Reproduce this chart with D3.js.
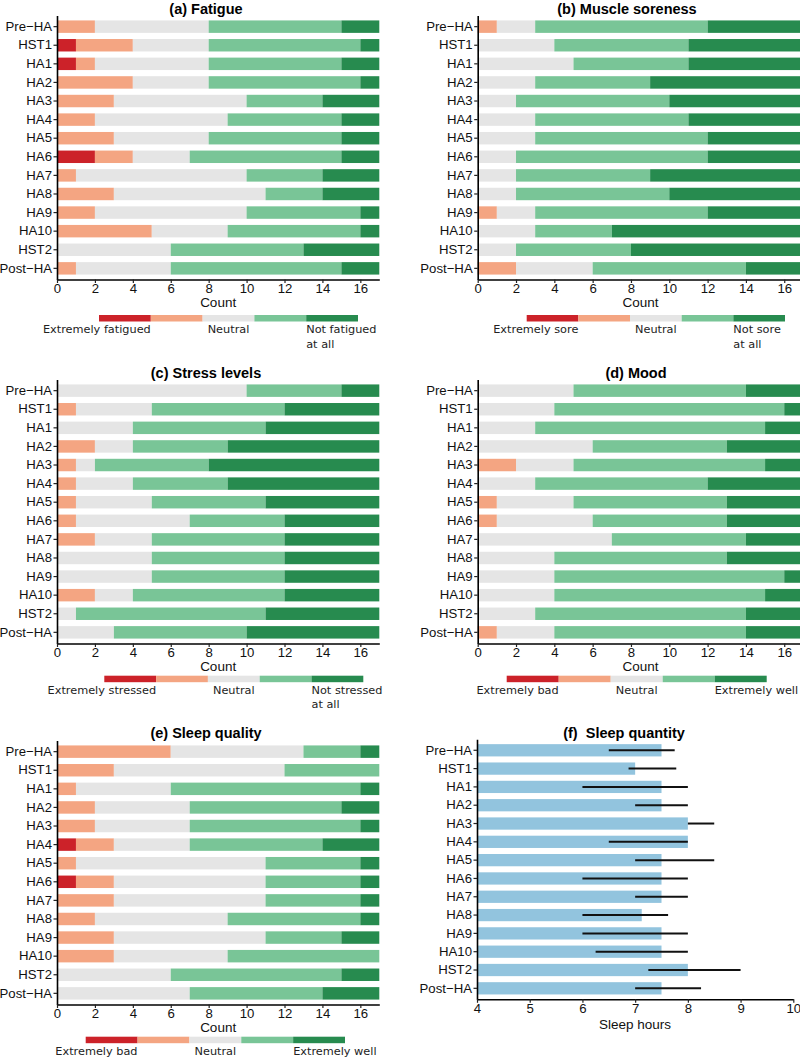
<!DOCTYPE html>
<html><head><meta charset="utf-8">
<script src="https://cdn.jsdelivr.net/npm/d3@7"></script>
<style>body{margin:0;background:#fff} svg{display:block}</style>
</head><body>
<script>
// ---------- data ----------
const timepoints = ["Pre−HA","HST1","HA1","HA2","HA3","HA4","HA5","HA6","HA7","HA8","HA9","HA10","HST2","Post−HA"];
const levels = ["l1","l2","l3","l4","l5"];
const levelColors = ["#cc2229","#f4a582","#e5e5e5","#79c597","#278b4f"];

// counts per timepoint: [most negative, negative, neutral, positive, most positive]
const fatigue = [[0,2,6,7,2],[1,3,4,8,1],[1,1,6,7,2],[0,4,4,8,1],[0,3,7,4,3],[0,2,7,6,2],[0,3,5,7,2],[2,2,3,8,2],[0,1,9,4,3],[0,3,8,3,3],[0,2,8,6,1],[0,5,4,7,1],[0,0,6,7,4],[0,1,5,9,2]];
const soreness = [[0,1,2,9,5],[0,0,4,7,6],[0,0,5,6,6],[0,0,3,6,8],[0,0,2,8,7],[0,0,3,8,6],[0,0,3,9,5],[0,0,2,10,5],[0,0,2,7,8],[0,0,2,8,7],[0,1,2,9,5],[0,0,3,4,10],[0,0,2,6,9],[0,2,4,8,3]];
const stress = [[0,0,10,5,2],[0,1,4,7,5],[0,0,4,7,6],[0,2,2,5,8],[0,1,1,6,9],[0,1,3,5,8],[0,1,4,6,6],[0,1,6,5,5],[0,2,3,7,5],[0,0,5,7,5],[0,0,5,7,5],[0,2,2,8,5],[0,0,1,10,6],[0,0,3,7,7]];
const mood = [[0,0,5,9,3],[0,0,4,12,1],[0,0,3,12,2],[0,0,6,7,4],[0,2,3,10,2],[0,0,3,9,5],[0,1,4,8,4],[0,1,5,7,4],[0,0,7,7,3],[0,0,4,9,4],[0,0,4,12,1],[0,0,4,11,2],[0,0,3,11,3],[0,1,3,10,3]];
const sleepQuality = [[0,6,7,3,1],[0,3,9,5,0],[0,1,5,10,1],[0,2,5,8,2],[0,2,5,9,1],[1,2,4,7,3],[0,1,10,5,1],[1,2,8,5,1],[0,3,8,5,1],[0,2,7,7,1],[0,3,8,4,2],[0,3,6,8,0],[0,0,6,9,2],[0,0,7,7,3]];

const sleepHours = [7.5,7.0,7.5,7.5,8.0,8.0,7.5,7.5,7.5,7.125,7.5,7.5,8.0,7.5];
const sleepLow   = [6.5,6.875,6.0,7.0,8.0,6.5,7.0,6.0,7.0,6.0,6.0,6.25,7.25,7.0];
const sleepHigh  = [7.75,7.78,8.0,8.0,8.5,8.0,8.5,8.0,8.0,7.625,8.0,8.0,9.0,8.25];

const countTicks = [0,2,4,6,8,10,12,14,16];
const hourTicks = [4,5,6,7,8,9,10];

const titles = ["(a) Fatigue","(b) Muscle soreness","(c) Stress levels","(d) Mood","(e) Sleep quality","(f)  Sleep quantity"];
const legendLabels = [
  ["Extremely fatigued","Neutral","Not fatigued","at all"],
  ["Extremely sore","Neutral","Not sore","at all"],
  ["Extremely stressed","Neutral","Not stressed","at all"],
  ["Extremely bad","Neutral","Extremely well",""],
  ["Extremely bad","Neutral","Extremely well",""]
];

// ---------- layout ----------
const W = 800, H = 1057;
const svg = d3.select("body").append("svg").attr("width", W).attr("height", H);
const axisFont = "'Liberation Sans', Arial, sans-serif";
const legFont = "'DejaVu Sans', Verdana, sans-serif";

const panels = [
  {data: fatigue,      x0: 57,    x1: 379.3, y0: 15.5,  y1: 279.5,  tx: 206, ty: 14,   leg:{x0:99,    x1:358,   y:315}},
  {data: soreness,     x0: 477.7, x1: 803.4, y0: 15.5,  y1: 279.5,  tx: 627, ty: 14,   leg:{x0:526.7, x1:785,   y:315}},
  {data: stress,       x0: 57,    x1: 379.3, y0: 379.5, y1: 643.5,  tx: 206, ty: 378,  leg:{x0:104.3, x1:363.3, y:675.7}},
  {data: mood,         x0: 477.7, x1: 803.4, y0: 379.5, y1: 643.5,  tx: 636, ty: 378,  leg:{x0:506.7, x1:766.7, y:675.7}},
  {data: sleepQuality, x0: 57,    x1: 379.3, y0: 740.5, y1: 1004.5, tx: 206, ty: 738,  leg:{x0:85.7,  x1:345,   y:1036.7}},
];

const color = d3.scaleOrdinal().domain(levels).range(levelColors);

function styleAxis(g){
  g.selectAll("path.domain").attr("stroke","#000").attr("stroke-width",1.6);
  g.selectAll(".tick line").attr("stroke","#222").attr("stroke-width",1.2);
  g.selectAll(".tick text").attr("fill","#111").style("font-family",axisFont).style("font-size","13.2px");
}

panels.forEach((p, i) => {
  const rows = p.data.map((d, k) => {
    const o = {tp: timepoints[k]};
    levels.forEach((l, j) => o[l] = d[j]);
    return o;
  });
  const series = d3.stack().keys(levels)(rows);
  const x = d3.scaleLinear().domain([0,17]).range([p.x0, p.x1]);
  const y = d3.scaleBand().domain(timepoints).range([p.y0, p.y1]).paddingInner(0.33).paddingOuter(0.265);
  const g = svg.append("g");

  g.selectAll("g.s").data(series).join("g").attr("fill", s => color(s.key))
    .selectAll("rect").data(s => s).join("rect")
    .attr("x", d => x(d[0])).attr("width", d => x(d[1]) - x(d[0]))
    .attr("y", d => y(d.data.tp)).attr("height", y.bandwidth());

  const ya = g.append("g").attr("transform", `translate(${p.x0},0)`)
    .call(d3.axisLeft(y).tickSize(3.5).tickSizeOuter(0).tickPadding(1.5));
  styleAxis(ya);
  const xa = g.append("g").attr("transform", `translate(0,${p.y1})`)
    .call(d3.axisBottom(x).tickValues(countTicks).tickFormat(d3.format("d")).tickSize(3.5).tickSizeOuter(0).tickPadding(1));
  styleAxis(xa);

  g.append("text").attr("x", (p.x0 + x(17))/2).attr("y", p.y1 + 27.5).attr("text-anchor","middle")
    .style("font-family",axisFont).style("font-size","13.5px").attr("fill","#111").text("Count");

  g.append("text").attr("x", p.tx).attr("y", p.ty).attr("text-anchor","middle")
    .style("font-family",axisFont).style("font-size","14.5px").style("font-weight","bold").attr("fill","#000")
    .text(titles[i]);

  // legend
  const lx = d3.scaleBand().domain(levels).range([p.leg.x0, p.leg.x1]);
  g.selectAll("rect.leg").data(levels).join("rect").attr("class","leg")
    .attr("x", d => lx(d)).attr("width", lx.bandwidth()).attr("y", p.leg.y).attr("height", 6.5)
    .attr("fill", d => color(d));
  const lab = legendLabels[i];
  const ly = p.leg.y + 18;
  const lt = (xx, yy, anchor, txt) => g.append("text").attr("x", xx).attr("y", yy).attr("text-anchor", anchor)
    .style("font-family",legFont).style("font-size","11.3px").attr("fill","#222").text(txt);
  lt(lx(levels[0]) + lx.bandwidth(), ly, "end", lab[0]);
  lt(lx(levels[2]) + lx.bandwidth()/2, ly, "middle", lab[1]);
  lt(lx(levels[4]), ly, "start", lab[2]);
  if (lab[3]) lt(lx(levels[4]), ly + 14.5, "start", lab[3]);
});

// ---------- panel (f) ----------
{
  const x = d3.scaleLinear().domain([4,10]).range([477, 793.3]);
  const y = d3.scaleBand().domain(timepoints).range([739.3, 999.3]).paddingInner(0.33).paddingOuter(0.265);
  const g = svg.append("g");
  g.selectAll("rect").data(timepoints).join("rect")
    .attr("x", x(4)).attr("width", (d,k) => x(sleepHours[k]) - x(4))
    .attr("y", d => y(d)).attr("height", y.bandwidth()).attr("fill","#92c4de");
  g.selectAll("line.err").data(timepoints).join("line").attr("class","err")
    .attr("x1", (d,k) => x(sleepLow[k])).attr("x2", (d,k) => x(sleepHigh[k]))
    .attr("y1", d => y(d) + y.bandwidth()/2).attr("y2", d => y(d) + y.bandwidth()/2)
    .attr("stroke","#111").attr("stroke-width",2);
  const ya = g.append("g").attr("transform","translate(477,0)")
    .call(d3.axisLeft(y).tickSize(3.5).tickSizeOuter(0).tickPadding(1.5));
  styleAxis(ya);
  const xa = g.append("g").attr("transform","translate(0,999.3)")
    .call(d3.axisBottom(x).tickValues(hourTicks).tickFormat(d3.format("d")).tickSize(3.5).tickSizeOuter(0).tickPadding(1));
  styleAxis(xa);
  g.append("text").attr("x", 635).attr("y", 1029).attr("text-anchor","middle")
    .style("font-family",axisFont).style("font-size","13.5px").attr("fill","#111").text("Sleep hours");
  g.append("text").attr("x", 624).attr("y", 738).attr("text-anchor","middle").style("white-space","pre")
    .style("font-family",axisFont).style("font-size","14.5px").style("font-weight","bold").attr("fill","#000")
    .text(titles[5]);
}
</script>
</body></html>
